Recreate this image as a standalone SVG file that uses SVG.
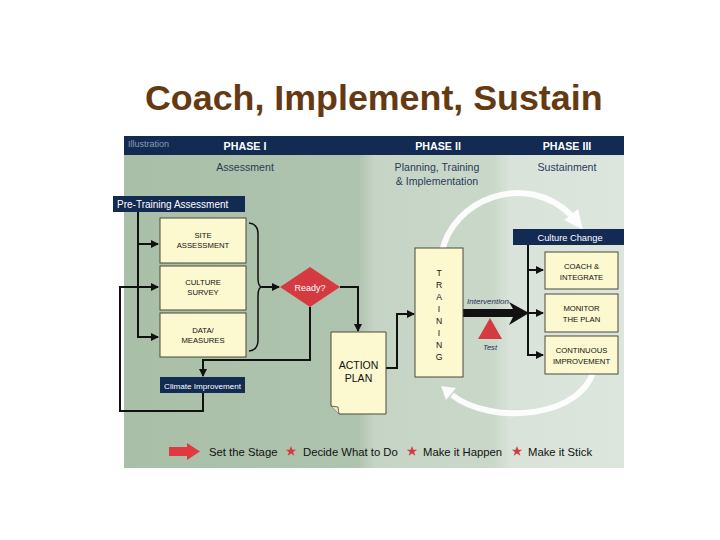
<svg xmlns="http://www.w3.org/2000/svg" width="720" height="540" viewBox="0 0 720 540">
<style>
text{font-family:"Liberation Sans",Arial,sans-serif}
.title{font-size:35.8px;font-weight:bold;fill:#653A12}
.ph{font-size:10.7px;font-weight:bold;fill:#fff;text-anchor:middle}
.sub{font-size:10.6px;fill:#2B3B5B;text-anchor:middle}
.nav{fill:#132A52}
.navt{fill:#fff}
.box{fill:#FCF8CF;stroke:#4A4A3A;stroke-width:1}
.bt{font-size:7.7px;fill:#111;text-anchor:middle}
.ln{fill:none;stroke:#111;stroke-width:2}
.arc{fill:none;stroke:#fff;stroke-width:6;opacity:0.9}
.leg{font-size:11.3px;fill:#111}
.star{fill:#D63A41}
</style>
<defs>
<linearGradient id="bg" x1="124" y1="0" x2="624" y2="0" gradientUnits="userSpaceOnUse">
<stop offset="0" stop-color="#A9BFA8"/>
<stop offset="0.47" stop-color="#AFC4AE"/>
<stop offset="0.5" stop-color="#C5D4C4"/>
<stop offset="0.74" stop-color="#CAD8C9"/>
<stop offset="0.77" stop-color="#D9E3D9"/>
<stop offset="1" stop-color="#DDE6DD"/>
</linearGradient>
<marker id="ah" markerUnits="userSpaceOnUse" markerWidth="8" markerHeight="8" refX="7" refY="4" orient="auto">
<path d="M0,0 L8,4 L0,8 z" fill="#111"/>
</marker>
</defs>
<rect width="720" height="540" fill="#fff"/>
<text class="title" x="145" y="110">Coach, Implement, Sustain</text>

<g id="panel">
<rect x="124" y="155" width="500" height="313" fill="url(#bg)"/>
<rect x="124" y="136" width="500" height="19" class="nav"/>
<text x="128" y="147" font-size="9" fill="#8E9AB3">Illustration</text>
<text class="ph" x="245" y="150">PHASE I</text>
<text class="ph" x="438" y="150">PHASE II</text>
<text class="ph" x="567" y="150">PHASE III</text>
<text class="sub" x="245" y="171">Assessment</text>
<text class="sub" x="437" y="171">Planning, Training</text>
<text class="sub" x="437" y="185">&amp; Implementation</text>
<text class="sub" x="567" y="171">Sustainment</text>
</g>

<g id="cycle-arcs">
<path class="arc" d="M442,252 C452,200 525,170 571,215"/>
<polygon points="583,230 564,220 578,209" fill="#fff" opacity="0.9"/>
<path class="arc" d="M595,365 C585,420 490,425 452,395"/>
<polygon points="441,386 456,388 446,400" fill="#fff" opacity="0.9"/>
</g>

<g id="connectors">
<path class="ln" d="M138,212 V337 H158" marker-end="url(#ah)"/>
<path class="ln" d="M138,244 H158" marker-end="url(#ah)"/>
<path class="ln" d="M203,393 V411 H120 V287 H158" marker-end="url(#ah)"/>
<path d="M249,223 Q258,224 258,234 V278 Q258,287 262,287 Q258,287 258,296 V340 Q258,350 249,351" fill="none" stroke="#111" stroke-width="1.5"/>
<path class="ln" d="M262,287 H279" marker-end="url(#ah)"/>
<path class="ln" d="M340,287 H358 V331" marker-end="url(#ah)"/>
<path class="ln" d="M310,307 V360 H203 V376" marker-end="url(#ah)"/>
<path class="ln" d="M386,368 H397 V314 H414" marker-end="url(#ah)"/>
<path d="M463,309 L513,309 L509,302 L529,313 L509,325 L513,317 L463,317 Z" fill="#111"/>
<path class="ln" d="M528,245 V355 H543" marker-end="url(#ah)"/>
<path class="ln" d="M528,270 H543" marker-end="url(#ah)"/>
<path class="ln" d="M528,313 H543" marker-end="url(#ah)"/>
</g>

<g id="pre-training">
<rect x="113" y="196" width="132" height="16" class="nav"/>
<text x="117" y="208" font-size="10" class="navt">Pre-Training Assessment</text>
</g>
<g id="site-assessment">
<rect class="box" x="160" y="218" width="86" height="45"/>
<text class="bt" x="203" y="238">SITE</text>
<text class="bt" x="203" y="248">ASSESSMENT</text>
</g>
<g id="culture-survey">
<rect class="box" x="160" y="266" width="86" height="44"/>
<text class="bt" x="203" y="285">CULTURE</text>
<text class="bt" x="203" y="295">SURVEY</text>
</g>
<g id="data-measures">
<rect class="box" x="160" y="313" width="86" height="44"/>
<text class="bt" x="203" y="333">DATA/</text>
<text class="bt" x="203" y="343">MEASURES</text>
</g>
<g id="ready">
<polygon points="280,287 310,267 340,287 310,307" fill="#D63A41"/>
<text x="310" y="291" font-size="9" fill="#fff" text-anchor="middle">Ready?</text>
</g>
<g id="climate-improvement">
<rect x="160" y="377" width="85" height="16" class="nav"/>
<text x="202.5" y="388.5" font-size="8.1" class="navt" text-anchor="middle">Climate Improvement</text>
</g>
<g id="action-plan">
<path d="M331,332 H386 V414 H339 L331,406 Z" fill="#FCF8CF" stroke="#4A4A3A" stroke-width="1"/>
<path d="M331,406 L338,407 L339,414" fill="#E8E6D0" stroke="#4A4A3A" stroke-width="0.8"/>
<text x="358.5" y="369" font-size="10.5" fill="#111" text-anchor="middle">ACTION</text>
<text x="358.5" y="382" font-size="10.5" fill="#111" text-anchor="middle">PLAN</text>
</g>
<g id="training">
<rect class="box" x="415" y="248" width="48" height="129"/>
<g font-size="8.6" fill="#111" text-anchor="middle">
<text x="439" y="276">T</text>
<text x="439" y="288">R</text>
<text x="439" y="300">A</text>
<text x="439" y="312">I</text>
<text x="439" y="324">N</text>
<text x="439" y="336">I</text>
<text x="439" y="348">N</text>
<text x="439" y="360">G</text>
</g>
</g>
<g id="intervention">
<text x="488" y="304" font-size="8" font-style="italic" fill="#1E2E50" text-anchor="middle">Intervention</text>
</g>
<g id="test">
<polygon points="490,318 502,339 478,339" fill="#D63A41"/>
<text x="490" y="350" font-size="7.6" font-style="italic" fill="#1E2E50" text-anchor="middle">Test</text>
</g>
<g id="culture-change">
<rect x="513" y="229" width="111" height="16" class="nav"/>
<text x="570" y="241" font-size="9.3" class="navt" text-anchor="middle">Culture Change</text>
</g>
<g id="coach-integrate">
<rect class="box" x="545" y="252" width="73" height="37"/>
<text class="bt" x="581.5" y="269">COACH &amp;</text>
<text class="bt" x="581.5" y="280">INTEGRATE</text>
</g>
<g id="monitor-plan">
<rect class="box" x="545" y="294" width="73" height="38"/>
<text class="bt" x="581.5" y="311">MONITOR</text>
<text class="bt" x="581.5" y="322">THE PLAN</text>
</g>
<g id="continuous-improvement">
<rect class="box" x="545" y="336" width="73" height="38"/>
<text class="bt" x="581.5" y="353">CONTINUOUS</text>
<text class="bt" x="581.5" y="364">IMPROVEMENT</text>
</g>

<g id="legend">
<path d="M169,447 H187 V443 L200,451.5 L187,460 V456 H169 Z" fill="#E03A40"/>
<text class="leg" x="209" y="456">Set the Stage</text>
<polygon class="star" points="291,446 292.4,449.8 296.2,449.8 293.1,452.1 294.3,455.8 291,453.5 287.7,455.8 288.9,452.1 285.8,449.8 289.6,449.8"/>
<text class="leg" x="303" y="456">Decide What to Do</text>
<polygon class="star" points="412,446 413.4,449.8 417.2,449.8 414.1,452.1 415.3,455.8 412,453.5 408.7,455.8 409.9,452.1 406.8,449.8 410.6,449.8"/>
<text class="leg" x="423" y="456">Make it Happen</text>
<polygon class="star" points="517,446 518.4,449.8 522.2,449.8 519.1,452.1 520.3,455.8 517,453.5 513.7,455.8 514.9,452.1 511.8,449.8 515.6,449.8"/>
<text class="leg" x="528" y="456">Make it Stick</text>
</g>
</svg>
